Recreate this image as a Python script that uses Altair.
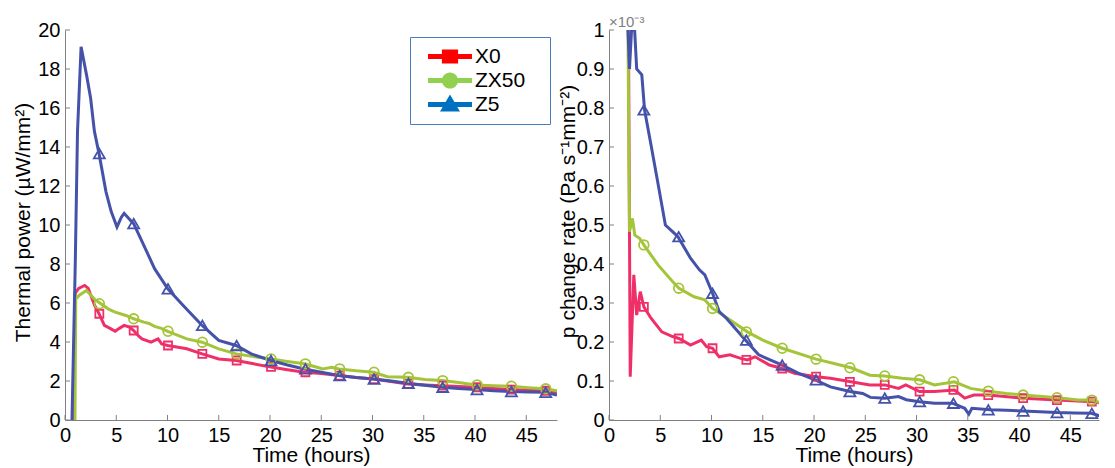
import altair as alt
import pandas as pd

FONT = "Liberation Sans"
series = ["X0", "ZX50", "Z5"]
line_colors = ["#EF3068", "#A4C43A", "#4552AA"]
legend_colors = ["#FF0000", "#92D050", "#0070C0"]
marker_shapes = ["square", "circle", "triangle-up"]
marker_sizes = [64, 121, 170]
legend_paths = [
    "M-0.63,-0.09H1V0.09H-0.63Z M-0.115,-0.26H0.485V0.26H-0.115Z",
    "M-0.63,-0.09H1V0.09H-0.63Z M-0.115,0A0.3,0.3,0,1,1,0.485,0A0.3,0.3,0,1,1,-0.115,0Z",
    "M-0.63,-0.09H1V0.09H-0.63Z M0.185,-0.37L0.555,0.26H-0.185Z",
]

hour_ticks = [0, 5, 10, 15, 20, 25, 30, 35, 40, 45]
power_ticks = [0, 2, 4, 6, 8, 10, 12, 14, 16, 18, 20]
rate_ticks = [0, 0.1, 0.2, 0.3, 0.4, 0.5, 0.6, 0.7, 0.8, 0.9, 1]

# ---------- Left panel: thermal power (uW/mm2) ----------
tp_x0_t = [0.8, 1.0, 1.33, 1.92, 2.27, 2.87, 3.32, 3.84, 4.4, 4.89, 5.3, 5.77, 6.29, 6.7, 7.2, 7.51, 8.39, 9.08, 9.43,
           10.03, 11.88, 13.38, 15.0, 16.7, 18.4, 20.1, 21.7, 23.34, 25.0, 26.73, 28.4, 30.1, 31.8, 33.44, 35.1, 36.76,
           38.4, 40.1, 41.8, 43.5, 45.2, 46.8, 48.0]
tp_x0_v = [0, 6.5, 6.75, 6.9, 6.75, 5.9, 5.45, 4.85, 4.7, 4.55, 4.7, 4.85, 4.76, 4.59, 4.3, 4.16, 3.99, 4.16, 3.9,
           3.82, 3.65, 3.39, 3.13, 3.05, 2.88, 2.72, 2.58, 2.45, 2.38, 2.28, 2.18, 2.1, 1.98, 1.85, 1.8, 1.76,
           1.72, 1.68, 1.62, 1.56, 1.53, 1.5, 1.42]

tp_zx50_t = [0.97, 1.05, 1.4, 2.1, 2.87, 3.5, 4.2, 4.89, 5.94, 6.7, 7.69, 8.2, 8.74, 9.4, 10.03, 11.88, 13.38, 15.0,
             16.7, 18.4, 20.1, 21.7, 23.34, 24.5, 25.16, 26.0, 26.73, 28.4, 30.1, 31.45, 33.44, 35.1, 36.76, 38.4,
             40.1, 41.8, 43.5, 45.2, 46.8, 48.0]
tp_zx50_v = [0, 6.2, 6.4, 6.64, 6.2, 5.96, 5.7, 5.53, 5.36, 5.19, 5.02, 4.95, 4.8, 4.7, 4.55, 4.16, 3.99, 3.65,
             3.39, 3.25, 3.13, 3.0, 2.88, 2.72, 2.62, 2.7, 2.62, 2.52, 2.45, 2.22, 2.19, 2.08, 2.02, 1.92,
             1.8, 1.76, 1.73, 1.66, 1.6, 1.5]

tp_z5_t = [0.68, 1.0, 1.22, 1.57, 2.1, 2.5, 2.87, 3.32, 4.0, 4.5, 5.07, 5.5, 5.77, 6.29, 6.7, 7.69, 8.74, 10.03, 11.53,
           13.38, 15.0, 16.7, 18.17, 20.1, 21.7, 23.34, 25.0, 26.73, 28.4, 30.1, 31.8, 33.44, 35.1, 36.76, 38.4,
           40.1, 41.8, 43.5, 45.2, 46.8, 48.0]
tp_z5_v = [0, 8.0, 14.8, 19.14, 17.7, 16.5, 14.8, 13.66, 11.7, 10.7, 9.9, 10.4, 10.6, 10.3, 10.07, 8.96, 7.76, 6.73,
           5.87, 4.85, 4.08, 3.82, 3.39, 3.05, 2.82, 2.62, 2.45, 2.28, 2.18, 2.1, 2.0, 1.88, 1.78, 1.68, 1.62,
           1.56, 1.5, 1.46, 1.44, 1.42, 1.28]

tp_marker_t = [3.35, 6.7, 10.05, 13.4, 16.75, 20.1, 23.45, 26.8, 30.15, 33.5, 36.85, 40.2, 43.55, 46.9]
tp_x0_m = [5.45, 4.59, 3.82, 3.39, 3.05, 2.72, 2.45, 2.28, 2.1, 1.85, 1.76, 1.68, 1.56, 1.5]
tp_zx50_m = [5.96, 5.19, 4.55, 3.99, 3.39, 3.13, 2.88, 2.62, 2.45, 2.19, 2.02, 1.8, 1.73, 1.6]
tp_z5_m = [13.66, 10.07, 6.73, 4.85, 3.82, 3.05, 2.62, 2.28, 2.1, 1.88, 1.68, 1.56, 1.46, 1.42]

# ---------- Right panel: rate (x 1e-3 Pa s^-1 mm^-2) ----------
pr_x0_t = [1.9, 2.07, 2.42, 2.7, 3.05, 3.4, 4.1, 5.15, 6.2, 6.83, 7.95, 9.0, 9.52, 10.1, 10.75, 11.8, 12.85, 13.5,
           14.25, 15.65, 16.9, 18.1, 20.2, 21.6, 23.6, 25.45, 26.9, 28.25, 28.95, 30.3, 31.75, 33.7, 34.7, 35.6,
           37.0, 40.4, 43.77, 47.16, 48.1]
pr_x0_v = [1.0, 0.111, 0.372, 0.269, 0.329, 0.29, 0.261, 0.226, 0.214, 0.209, 0.192, 0.205, 0.188, 0.184, 0.162,
           0.167, 0.158, 0.154, 0.162, 0.141, 0.132, 0.12, 0.111, 0.107, 0.098, 0.09, 0.09, 0.081, 0.09, 0.073,
           0.073, 0.077, 0.056, 0.064, 0.064, 0.056, 0.051, 0.047, 0.043]

pr_zx50_t = [1.85, 2.0, 2.28, 2.52, 2.98, 3.4, 4.8, 6.2, 6.83, 8.3, 9.35, 10.1, 11.1, 13.5, 15.0, 16.9, 20.2, 21.95,
             23.6, 25.45, 26.9, 28.6, 30.3, 31.75, 33.7, 35.26, 37.0, 38.76, 40.4, 42.26, 43.77, 45.76, 47.16, 48.1]
pr_zx50_v = [1.0, 0.483, 0.517, 0.474, 0.466, 0.449, 0.397, 0.355, 0.338, 0.316, 0.308, 0.286, 0.269, 0.226, 0.205,
             0.184, 0.156, 0.145, 0.134, 0.115, 0.113, 0.107, 0.103, 0.09, 0.098, 0.081, 0.074, 0.068, 0.064, 0.06,
             0.057, 0.051, 0.051, 0.043]

pr_z5_t = [1.85, 2.0, 2.2, 2.5, 2.7, 3.2, 3.47, 4.1, 4.8, 5.5, 6.2, 6.72, 7.95, 8.82, 9.35, 10.1, 10.75, 11.45, 13.3,
           14.6, 16.9, 18.45, 20.1, 21.6, 23.5, 24.75, 25.5, 26.9, 28.25, 29.0, 30.3, 31.75, 33.5, 34.7, 35.1, 35.4,
           37.2, 38.8, 40.4, 42.0, 43.7, 45.4, 47.06, 48.1]
pr_z5_v = [1.0, 0.9, 1.0, 1.0, 0.9, 0.885, 0.795, 0.705, 0.603, 0.5, 0.483, 0.47, 0.415, 0.385, 0.372, 0.325, 0.278,
           0.261, 0.205, 0.167, 0.141, 0.12, 0.103, 0.085, 0.073, 0.068, 0.058, 0.056, 0.06, 0.052, 0.047, 0.043,
           0.043, 0.03, 0.015, 0.03, 0.026, 0.025, 0.023, 0.021, 0.019, 0.018, 0.017, 0.009]

pr_marker_t = [3.4, 6.8, 10.1, 13.4, 16.9, 20.2, 23.5, 26.9, 30.3, 33.6, 37.0, 40.4, 43.7, 47.1]
pr_x0_m = [0.29, 0.209, 0.184, 0.154, 0.132, 0.111, 0.098, 0.09, 0.073, 0.077, 0.064, 0.056, 0.051, 0.047]
pr_zx50_m = [0.449, 0.338, 0.286, 0.226, 0.184, 0.156, 0.134, 0.113, 0.103, 0.098, 0.074, 0.064, 0.057, 0.051]
pr_z5_m = [0.795, 0.47, 0.325, 0.205, 0.141, 0.103, 0.073, 0.056, 0.047, 0.043, 0.026, 0.023, 0.019, 0.017]


def long_df(parts):
    rows = []
    for name, ts, vs in parts:
        for i, (t, v) in enumerate(zip(ts, vs)):
            rows.append({"series": name, "t": t, "v": v, "i": i})
    return pd.DataFrame(rows)


GRAY = "#808080"


def panel(lines, markers, y_ticks, y_max, x_max, width, y_title, title_x, title_y, with_legend=False, top_title=None):
    height = 390
    xs = alt.Scale(domain=[0, x_max], nice=False, zero=False)
    ys = alt.Scale(domain=[0, y_max], nice=False)
    x_axis = alt.Axis(values=hour_ticks, title="Time (hours)", labelOverlap=False, labelFlush=False,
                      labelBaseline="alphabetic", labelPadding=21.5,
                      titleY=41.5, titleBaseline="alphabetic", titleAlign="center")
    y_axis = alt.Axis(values=y_ticks, title=y_title, titleX=title_x, titleY=title_y, format="~g",
                      labelOverlap=False, labelFlush=False, labelBaseline="middle", labelPadding=5,
                      titleAngle=270, titleAlign="center", titleBaseline="middle")

    line = alt.Chart(lines).mark_line(strokeWidth=3, clip=True).encode(
        x=alt.X("t:Q", scale=xs, axis=x_axis),
        y=alt.Y("v:Q", scale=ys, axis=y_axis),
        color=alt.Color("series:N", scale=alt.Scale(domain=series, range=line_colors), legend=None),
        order=alt.Order("i:Q"),
    )
    pts = alt.Chart(markers).mark_point(filled=False, strokeWidth=1.8, opacity=1, clip=True).encode(
        x=alt.X("t:Q", scale=xs, axis=x_axis),
        y=alt.Y("v:Q", scale=ys, axis=y_axis),
        color=alt.Color("series:N", scale=alt.Scale(domain=series, range=line_colors), legend=None),
        shape=alt.Shape("series:N", scale=alt.Scale(domain=series, range=marker_shapes), legend=None),
        size=alt.Size("series:O", scale=alt.Scale(domain=series, range=marker_sizes), legend=None),
    )
    xt = alt.Chart(pd.DataFrame({"t": hour_ticks})).mark_rule(color=GRAY, strokeWidth=1).encode(
        x=alt.X("t:Q", scale=xs, axis=x_axis), y=alt.value(height), y2=alt.value(height - 5))
    yt = alt.Chart(pd.DataFrame({"v": y_ticks})).mark_rule(color=GRAY, strokeWidth=1).encode(
        y=alt.Y("v:Q", scale=ys, axis=y_axis), x=alt.value(0), x2=alt.value(5))

    layers = [line, pts, xt, yt]
    if with_legend:
        lg = alt.Legend(orient="none", legendX=345, legendY=7, title=".", titleOrient="right",
                        titleColor="white", titleFontSize=21, titlePadding=11, padding=8,
                        strokeColor="#4A7EBB", fillColor="white",
                        labelFont=FONT, labelFontSize=21, labelColor="black", labelOffset=3,
                        labelLimit=300,
                        symbolSize=2916, symbolOpacity=1, symbolStrokeWidth=0, clipHeight=23, rowPadding=1)
        leg = alt.Chart(lines).mark_point(filled=True, opacity=0, clip=True).encode(
            x=alt.X("t:Q", scale=xs, axis=x_axis),
            y=alt.Y("v:Q", scale=ys, axis=y_axis),
            color=alt.Color("series:N", scale=alt.Scale(domain=series, range=legend_colors), legend=lg),
            shape=alt.Shape("series:N", scale=alt.Scale(domain=series, range=legend_paths), legend=lg),
        )
        layers.append(leg)
    ch = alt.layer(*layers).resolve_scale(color="independent", shape="independent")
    props = dict(width=width, height=height)
    if top_title is not None:
        props["title"] = alt.TitleParams(top_title, anchor="start", frame="group", fontSize=15, font=FONT,
                                         fontWeight="normal", color=GRAY, offset=-10)
    return ch.properties(**props)


left_lines = long_df([("X0", tp_x0_t, tp_x0_v), ("ZX50", tp_zx50_t, tp_zx50_v), ("Z5", tp_z5_t, tp_z5_v)])
left_markers = long_df([("X0", tp_marker_t, tp_x0_m), ("ZX50", tp_marker_t, tp_zx50_m), ("Z5", tp_marker_t, tp_z5_m)])
right_lines = long_df([("X0", pr_x0_t, pr_x0_v), ("ZX50", pr_zx50_t, pr_zx50_v), ("Z5", pr_z5_t, pr_z5_v)])
right_markers = long_df([("X0", pr_marker_t, pr_x0_m), ("ZX50", pr_marker_t, pr_zx50_m), ("Z5", pr_marker_t, pr_z5_m)])

left = panel(left_lines, left_markers, power_ticks, 20, 48, 492, "Thermal power (µW/mm²)", -42, 192,
             with_legend=True)
right = panel(right_lines, right_markers, rate_ticks, 1, 47.8, 490, "p change rate (Pa s⁻¹mm⁻²)", -41, 181,
              top_title="×10⁻³")

chart = alt.hconcat(left, right, spacing=52, bounds="flush").properties(
    padding={"left": 11, "top": 14, "right": 0, "bottom": 0}, background="white"
).configure_view(stroke="transparent").configure_axis(
    domainColor=GRAY, domainWidth=1, ticks=False, tickSize=0, grid=False,
    labelFont=FONT, labelFontSize=20, labelColor="black", labelOverlap=False,
    titleFont=FONT, titleFontSize=21, titleColor="black", titleFontWeight="normal",
)

chart.save("out.html", embed_options={"renderer": "svg", "actions": False})
